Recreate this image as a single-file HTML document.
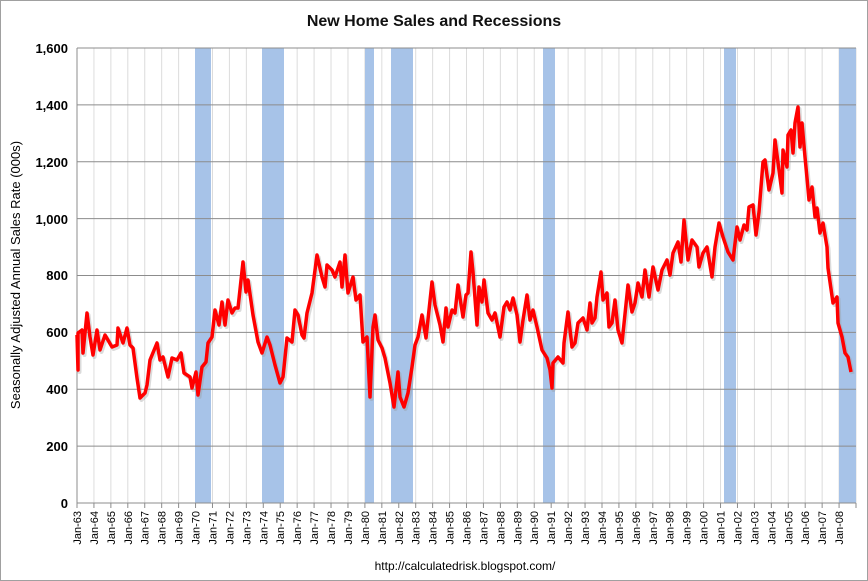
<!DOCTYPE html>
<html><head><style>
body{margin:0;background:#fff;}
svg{display:block;font-family:"Liberation Sans",sans-serif;}
</style></head><body>
<svg width="868" height="581" viewBox="0 0 868 581" xmlns="http://www.w3.org/2000/svg">
<rect x="0.5" y="0.5" width="867" height="580" fill="#fff" stroke="#a0a0a0"/>
<text x="434" y="26" text-anchor="middle" font-size="16" font-weight="bold" fill="#111">New Home Sales and Recessions</text>
<g id="vgrid" stroke="#dcdcdc" stroke-width="1"></g>
<g fill="#a7c3e8">
<rect x="195" y="48" width="16" height="455"/>
<rect x="262" y="48" width="22" height="455"/>
<rect x="365" y="48" width="9" height="455"/>
<rect x="391" y="48" width="22" height="455"/>
<rect x="543" y="48" width="12" height="455"/>
<rect x="724" y="48" width="12" height="455"/>
<rect x="839" y="48" width="17" height="455"/>
</g>
<g stroke="#8c8c8c" stroke-width="1">
<line x1="77" y1="48" x2="856" y2="48"/>
<line x1="77" y1="104.9" x2="856" y2="104.9"/>
<line x1="77" y1="161.8" x2="856" y2="161.8"/>
<line x1="77" y1="218.6" x2="856" y2="218.6"/>
<line x1="77" y1="275.5" x2="856" y2="275.5"/>
<line x1="77" y1="332.4" x2="856" y2="332.4"/>
<line x1="77" y1="389.3" x2="856" y2="389.3"/>
<line x1="77" y1="446.1" x2="856" y2="446.1"/>
<line x1="77" y1="503" x2="856" y2="503"/>
<line x1="77" y1="48" x2="77" y2="503"/>
</g>
<g font-size="13" font-weight="bold" text-anchor="end" fill="#000">
<text x="68" y="53">1,600</text>
<text x="68" y="110">1,400</text>
<text x="68" y="167">1,200</text>
<text x="68" y="224">1,000</text>
<text x="68" y="280">800</text>
<text x="68" y="337">600</text>
<text x="68" y="394">400</text>
<text x="68" y="451">200</text>
<text x="68" y="508">0</text>
</g>
<text transform="translate(20,275) rotate(-90)" text-anchor="middle" font-size="13" fill="#000">Seasonally Adjusted Annual Sales Rate (000s)</text>
<g id="xl" font-size="11" fill="#000"></g>
<g id="tk" stroke="#8c8c8c"></g>
<polyline fill="none" stroke="#999" stroke-opacity="0.35" stroke-width="4" stroke-linejoin="round" transform="translate(1.5,2)" id="sh"/>
<polyline fill="none" stroke="#f00" stroke-width="3.5" stroke-linejoin="round" id="ln"/>
<text x="465" y="570" text-anchor="middle" font-size="12" fill="#000">http://calculatedrisk.blogspot.com/</text>
<script>
var ns="http://www.w3.org/2000/svg",vg=document.getElementById('vgrid'),xl=document.getElementById('xl'),tk=document.getElementById('tk');
for(var i=0;i<=46;i++){var x=77+i*16.935;
 if(i>0){var l=document.createElementNS(ns,'line');l.setAttribute('x1',x);l.setAttribute('x2',x);l.setAttribute('y1',48);l.setAttribute('y2',503);vg.appendChild(l);}
 var t=document.createElementNS(ns,'line');t.setAttribute('x1',x);t.setAttribute('x2',x);t.setAttribute('y1',503);t.setAttribute('y2',508);tk.appendChild(t);
 if(i<46){var yr=(63+i)%100;var s='Jan-'+(yr<10?'0':'')+yr;var tx=document.createElementNS(ns,'text');tx.setAttribute('transform','translate('+(x+4)+',511) rotate(-90)');tx.setAttribute('text-anchor','end');tx.textContent=s;xl.appendChild(tx);}
}
var p="77,335 78,370 78,333 82,330 83,353 87,313 90,337 93,355 97,330 100,350 105,335 112,347 117,345 118,328 123,343 127,328 130,345 133,348 137,378 140,398 145,393 147,385 150,360 157,343 160,360 163,357 168,377 172,358 177,360 181,353 184,373 190,377 192,388 196,372 198,395 202,367 206,362 208,343 212,337 215,310 219,325 222,302 225,325 228,300 232,313 235,308 238,308 243,262 246,292 248,280 253,315 258,342 262,353 267,337 270,345 275,365 280,383 283,377 287,338 292,342 295,310 298,315 302,335 304,338 307,313 312,293 317,255 322,277 325,287 327,265 332,270 335,277 340,262 342,287 345,255 348,293 353,277 356,300 360,295 363,342 367,337 370,397 373,327 375,315 378,340 382,348 385,358 390,383 394,407 398,372 400,397 404,407 408,393 412,367 415,345 418,337 422,315 426,338 432,282 435,305 440,325 443,342 446,308 448,327 452,310 455,313 458,285 463,317 466,295 468,293 471,252 473,272 477,325 479,287 482,302 484,280 488,313 492,320 495,313 500,337 504,307 507,302 510,310 513,298 517,315 520,342 523,320 527,295 530,320 533,310 537,327 542,350 547,358 550,370 552,388 553,363 558,357 563,363 564,343 568,312 572,347 575,343 578,323 583,318 587,330 590,303 592,323 595,318 597,297 601,272 603,300 607,293 609,327 612,323 615,300 618,330 622,343 628,285 632,312 635,303 638,283 642,297 645,270 649,297 653,267 658,290 662,270 667,260 670,275 673,253 678,242 681,262 684,220 688,260 692,240 697,247 699,267 703,253 707,247 712,277 715,247 719,223 723,237 728,252 733,260 737,227 740,240 744,225 747,230 749,207 753,205 756,235 759,212 763,162 765,160 769,190 773,173 775,140 779,170 782,193 783,150 787,167 788,135 791,130 793,153 795,123 798,107 800,147 802,123 805,157 807,178 809,200 812,187 815,217 817,208 820,233 823,223 827,247 828,268 833,303 837,297 838,323 842,337 845,353 848,357 851,372";
document.getElementById('ln').setAttribute('points',p);document.getElementById('sh').setAttribute('points',p);
</script>
</svg>
</body></html>
